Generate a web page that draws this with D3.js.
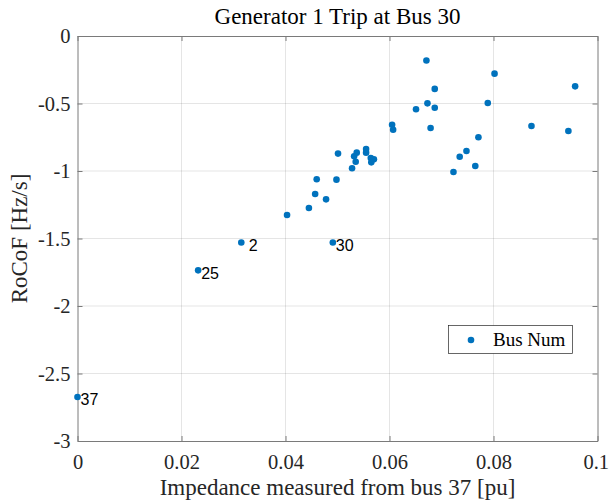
<!DOCTYPE html>
<html lang="en">
<head>
<meta charset="utf-8" />
<title>Generator 1 Trip at Bus 30</title>
<style>
html,body{margin:0;background:#fff}
svg{display:block}
.grid line{stroke:#262626;stroke-opacity:.12}
</style>
<script src="https://cdn.jsdelivr.net/npm/d3@7/dist/d3.min.js"></script>
</head>
<body>
<div id="chart"></div>

<script>
/* ------------------------------ data ---------------------------------- */
// impedance from bus 37 [pu] and RoCoF [Hz/s], one entry per bus
const impedance = [
  0.0671, 0.0802, 0.0957, 0.0687, 0.0673, 0.0789, 0.0651, 0.0687, 0.0605, 0.0607,
  0.0679, 0.0873, 0.0944, 0.0771, 0.0748, 0.0735, 0.0765, 0.0723, 0.0501, 0.0537,
  0.0532, 0.0535, 0.0528, 0.0555, 0.0555, 0.0564, 0.0570, 0.0565, 0.0460, 0.0498,
  0.0457, 0.0478, 0.0403, 0.0445,
  0.0315, 0.0232, 0.0491, 0.0000
];
const rocof = [
  -0.182, -0.279, -0.373, -0.392, -0.499, -0.496, -0.543, -0.531, -0.657, -0.694,
  -0.681, -0.667, -0.704, -0.750, -0.852, -0.894, -0.963, -1.007, -0.871, -0.864,
  -0.891, -0.931, -0.980, -0.837, -0.864, -0.904, -0.913, -0.936, -1.061, -1.064,
  -1.170, -1.210, -1.326, -1.274,
  -1.530, -1.736, -1.530, -2.674
];
// bus numbers written next to the last points (num2str padding kept)
const busLabels = [" 2", "25", "30", "37"];

const xTicks = [0, 0.02, 0.04, 0.06, 0.08, 0.1];
const xTickLabels = ["0", "0.02", "0.04", "0.06", "0.08", "0.1"];
const yTicks = [0, -0.5, -1, -1.5, -2, -2.5, -3];
const yTickLabels = ["0", "-0.5", "-1", "-1.5", "-2", "-2.5", "-3"];

/* ----------------------------- layout --------------------------------- */
const width = 609, height = 504;
const L = 77.5, R = 597.5, T = 36, B = 441;
const blue = "#0072BD", axisCol = "#7a7a7a";
const serif = "'Liberation Serif','Times New Roman',serif";

const svg = d3.select("#chart").append("svg")
  .attr("width", width).attr("height", height);

const x = d3.scaleLinear().domain([0, 0.1]).range([L, R]);
const y = d3.scaleLinear().domain([-3, 0]).range([B, T]);

// grid
const grid = svg.append("g").attr("class", "grid");
grid.selectAll(".gx").data(xTicks.slice(1, -1)).enter().append("line")
  .attr("x1", d => x(d)).attr("x2", d => x(d)).attr("y1", T).attr("y2", B);
grid.selectAll(".gy").data(yTicks.slice(1, -1)).enter().append("line")
  .attr("y1", d => y(d)).attr("y2", d => y(d)).attr("x1", L).attr("x2", R);

// axes (MATLAB style: ticks inside, box on)
function styleAxis(g) {
  g.select(".domain").attr("stroke", axisCol);
  g.selectAll(".tick line").attr("stroke", axisCol);
}
const fmtX = (d, i) => xTickLabels[i], fmtY = (d, i) => yTickLabels[i];

const xAx = svg.append("g").attr("transform", `translate(0,${B})`)
  .call(d3.axisBottom(x).tickValues(xTicks).tickFormat(fmtX).tickSizeInner(-5).tickSizeOuter(0))
  .call(styleAxis);
xAx.selectAll("text").attr("dy", "0.71em").attr("y", 13);
// last label would run off the edge: keep its right end inside
xAx.selectAll(".tick:last-of-type text").attr("text-anchor", "end").attr("x", 11);

svg.append("g").attr("transform", `translate(0,${T})`)
  .call(d3.axisTop(x).tickValues(xTicks).tickFormat("").tickSizeInner(-5).tickSizeOuter(0))
  .call(styleAxis);
svg.append("g").attr("transform", `translate(${L},0)`)
  .call(d3.axisLeft(y).tickValues(yTicks).tickFormat(fmtY).tickSizeInner(-5).tickSizeOuter(0).tickPadding(7))
  .call(styleAxis);
svg.append("g").attr("transform", `translate(${R},0)`)
  .call(d3.axisRight(y).tickValues(yTicks).tickFormat("").tickSizeInner(-5).tickSizeOuter(0))
  .call(styleAxis);
svg.selectAll(".tick text").attr("fill", "#262626").style("font-family", serif).style("font-size", "20.5px");

// points
const pts = impedance.map((v, i) => ({x: v, y: rocof[i]}));
svg.append("g").selectAll("circle").data(pts).enter().append("circle")
  .attr("cx", d => x(d.x)).attr("cy", d => y(d.y)).attr("r", 3.3).attr("fill", blue);

// bus number labels
const firstLab = pts.length - busLabels.length;
svg.append("g").selectAll("text").data(busLabels).enter().append("text")
  .attr("x", (d, i) => x(pts[firstLab + i].x) + 3)
  .attr("y", (d, i) => y(pts[firstLab + i].y) + 8.5)
  .attr("xml:space", "preserve")
  .style("white-space", "pre")
  .attr("font-family", "'Liberation Sans',Arial,sans-serif")
  .attr("font-size", 16).attr("fill", "#000")
  .text(d => d);

// title and axis labels
svg.append("text").attr("x", (L + R) / 2).attr("y", 24)
  .attr("text-anchor", "middle").attr("font-family", serif).attr("font-size", 23)
  .attr("fill", "#000").text("Generator 1 Trip at Bus 30");
svg.append("text").attr("x", (L + R) / 2).attr("y", 495)
  .attr("text-anchor", "middle").attr("font-family", serif).attr("font-size", 23)
  .attr("fill", "#262626").text("Impedance measured from bus 37 [pu]");
svg.append("text").attr("transform", `translate(27,${(T + B) / 2}) rotate(-90)`)
  .attr("text-anchor", "middle").attr("font-family", serif).attr("font-size", 23)
  .attr("fill", "#262626").text("RoCoF [Hz/s]");

// legend
const lg = svg.append("g");
lg.append("rect").attr("x", 448.5).attr("y", 325.5).attr("width", 124).attr("height", 28)
  .attr("fill", "#fff").attr("stroke", "#262626").attr("stroke-width", 0.7);
lg.append("circle").attr("cx", 471).attr("cy", 340).attr("r", 3.3).attr("fill", blue);
lg.append("text").attr("x", 493).attr("y", 346).attr("font-family", serif)
  .attr("font-size", 19).attr("fill", "#000").text("Bus Num");
</script>
</body>
</html>
